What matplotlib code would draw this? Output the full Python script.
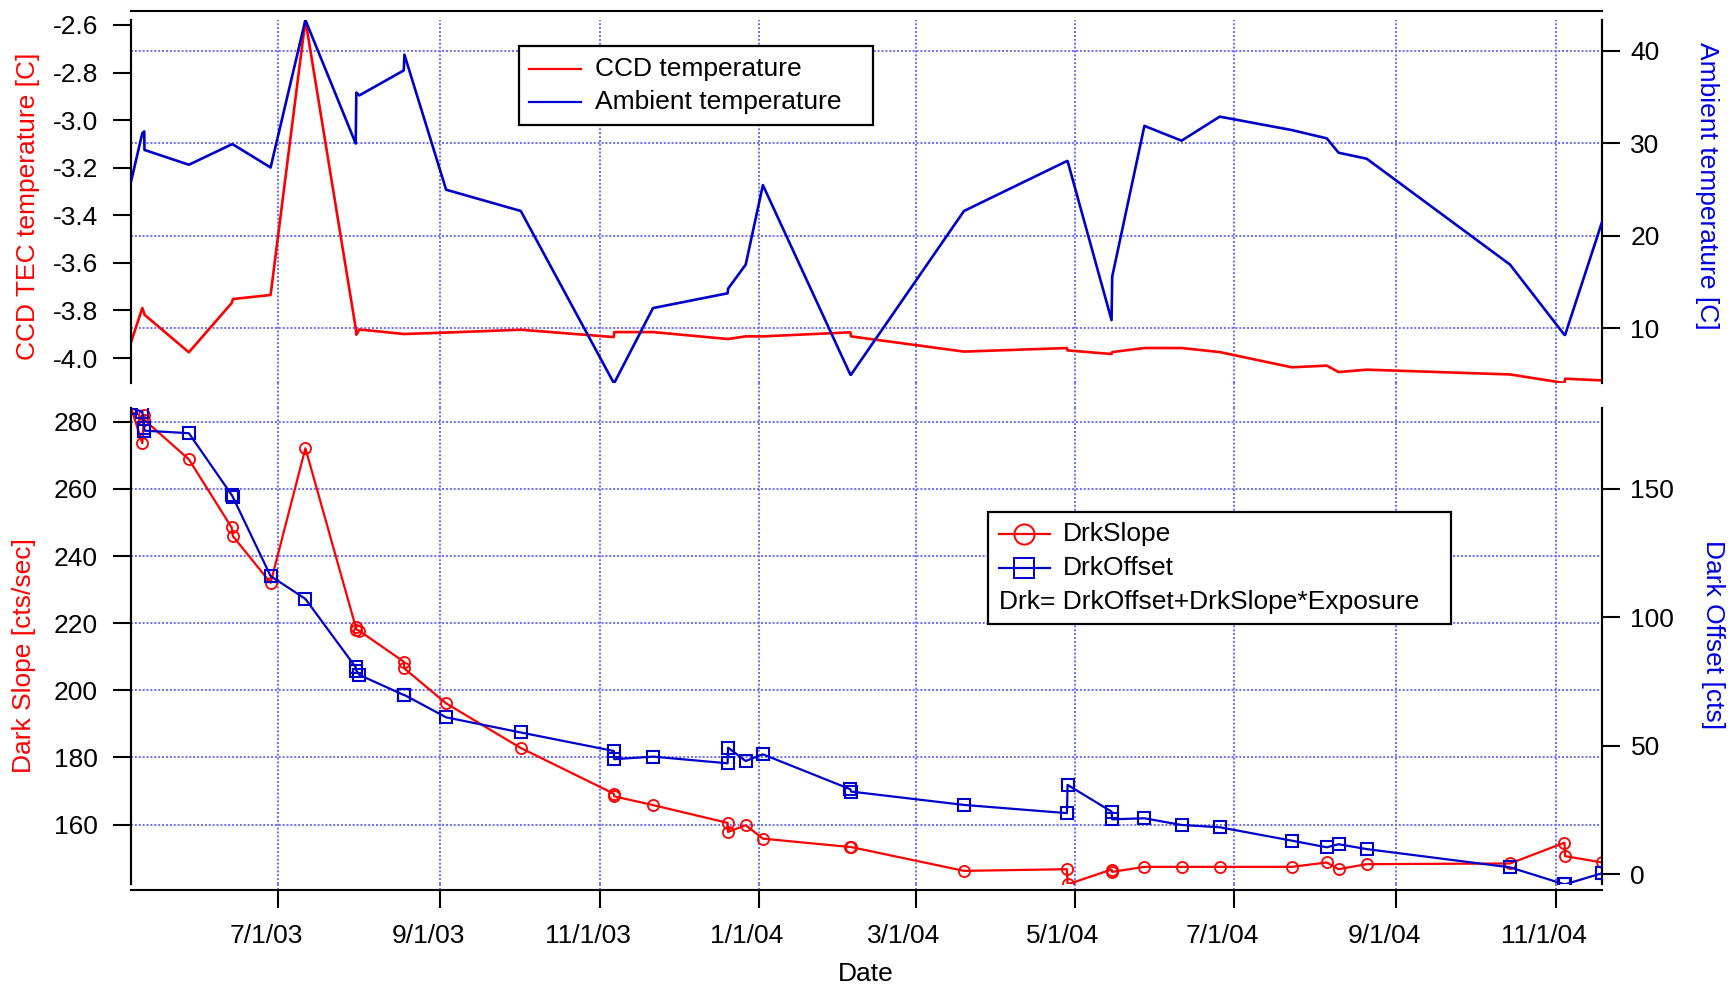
import numpy as np
import pandas as pd
import matplotlib
matplotlib.use('Agg')
import matplotlib.pyplot as plt
import matplotlib.transforms as mtransforms
from matplotlib.lines import Line2D
from matplotlib.offsetbox import DrawingArea, TextArea, HPacker, VPacker, AnchoredOffsetbox

plt.rcParams['font.family'] = ['Liberation Sans', 'DejaVu Sans']

# ---------------- data ----------------
meas_dates = [
    '2003-05-05 16:00', '2003-05-09 21:00', '2003-05-10 15:00', '2003-05-10 17:00',
    '2003-05-27 17:00', '2003-06-13 02:00', '2003-06-13 14:00', '2003-06-28 00:00',
    '2003-07-11 08:00', '2003-07-30 14:00', '2003-07-30 20:00', '2003-08-01 00:00',
    '2003-08-18 00:00', '2003-08-18 06:00', '2003-09-03 05:00', '2003-10-01 19:00',
    '2003-11-06 10:00', '2003-11-06 14:00', '2003-11-21 10:00', '2003-12-20 00:00',
    '2003-12-20 04:00', '2003-12-26 22:00', '2004-01-02 12:00', '2004-02-05 00:00',
    '2004-02-05 06:00', '2004-03-19 12:00', '2004-04-27 22:00', '2004-04-28 04:00',
    '2004-05-15 00:00', '2004-05-15 06:00', '2004-05-27 14:00', '2004-06-10 19:00',
    '2004-06-25 10:00', '2004-07-23 00:00', '2004-08-05 10:00', '2004-08-09 22:00',
    '2004-08-20 17:00', '2004-10-14 14:00', '2004-11-04 10:00', '2004-11-04 16:00',
    '2004-11-18 19:00']

ccd_temp = [-3.930, -3.790, -3.812, -3.818,
            -3.976, -3.769, -3.752, -3.735,
            -2.579, -3.874, -3.902, -3.880,
            -3.899, -3.899, -3.893, -3.881,
            -3.912, -3.891, -3.891, -3.920,
            -3.920, -3.909, -3.909, -3.892,
            -3.909, -3.973, -3.958, -3.968,
            -3.983, -3.975, -3.958, -3.958,
            -3.975, -4.039, -4.032, -4.059,
            -4.049, -4.069, -4.105, -4.087,
            -4.094]

ambient_temp = [26.0, 31.1, 31.3, 29.3,
                27.7, 29.9, 29.9, 27.4,
                43.35, 30.0, 35.5, 35.2,
                37.9, 39.6, 25.0, 22.7,
                4.1, 4.1, 12.2, 13.8,
                14.3, 16.9, 25.5, 5.0,
                5.0, 22.7, 28.1, 28.1,
                10.9, 15.6, 31.9, 30.3,
                32.9, 31.45, 30.55, 29.0,
                28.35, 16.9, 9.3, 9.3,
                21.5]

drk_slope = [284.0, 273.6, 282.0, 280.5,
             268.8, 248.5, 245.9, 232.0,
             272.1, 218.9, 218.1, 217.7,
             208.5, 206.5, 196.1, 182.8,
             169.2, 168.4, 165.8, 160.5,
             157.8, 159.8, 155.8, 153.3,
             153.3, 146.2, 146.7, 142.2,
             146.6, 145.9, 147.4, 147.4,
             147.4, 147.4, 148.7, 146.7,
             148.2, 148.4, 154.6, 150.6,
             148.7]

drk_offset = [181.4, 180.1, 173.9, 172.7,
              171.7, 147.7, 146.8, 116.1,
              107.2, 80.6, 79.3, 77.6,
              69.8, 69.8, 61.1, 55.2,
              48.0, 44.8, 45.8, 43.2,
              49.3, 44.1, 46.7, 33.1,
              32.2, 27.0, 23.8, 34.8,
              24.4, 21.4, 21.8, 19.2,
              18.3, 13.1, 10.5, 11.7,
              9.8, 2.7, -3.9, -3.9,
              0.4]

xtick_dates = ['2003-07-01', '2003-09-01', '2003-11-01', '2004-01-01', '2004-03-01',
               '2004-05-01', '2004-07-01', '2004-09-01', '2004-11-01']
xtick_labels = ['7/1/03', '9/1/03', '11/1/03', '1/1/04', '3/1/04',
                '5/1/04', '7/1/04', '9/1/04', '11/1/04']
ccd_ticks = [-4.0, -3.8, -3.6, -3.4, -3.2, -3.0, -2.8, -2.6]
ccd_ticklabels = ['-4.0', '-3.8', '-3.6', '-3.4', '-3.2', '-3.0', '-2.8', '-2.6']
ambient_ticks = [10, 20, 30, 40]
slope_ticks = [160, 180, 200, 220, 240, 260, 280]
offset_ticks = [0, 50, 100, 150]

# ---------------- style ----------------
RED = '#FF0000'
BLUE = '#0000CC'
BLUE_LABEL = '#0000E6'
GRID = '#6A6AFF'
FS = 19
SPINE_LW = 1.5

dates = pd.to_datetime(meas_dates)
xt = pd.to_datetime(xtick_dates)

W, H = 1730, 989
fig = plt.figure(figsize=(W / 100, H / 100), dpi=100)
L, R = 131.3, 1602.0
top_y0, top_y1 = 20.0, 383.0
bot_y0, bot_y1 = 408.3, 884.3

ax1 = fig.add_axes([L / W, 1 - top_y1 / H, (R - L) / W, (top_y1 - top_y0) / H])
ax3 = fig.add_axes([L / W, 1 - bot_y1 / H, (R - L) / W, (bot_y1 - bot_y0) / H], sharex=ax1)
ax2 = ax1.twinx()
ax4 = ax3.twinx()

grid_kw = dict(color=GRID, linestyle=(0, (1, 1)), linewidth=1.4)

# ---- top panel ----
ax1.plot(dates, ccd_temp, color=RED, lw=1.9, label='CCD temperature', zorder=3)
ax2.plot(dates, ambient_temp, color=BLUE, lw=1.9, label='Ambient temperature', zorder=3)
ax1.set_ylim(min(ccd_temp), max(ccd_temp))
ax2.set_ylim(min(ambient_temp), max(ambient_temp))
ax1.set_xlim(dates.min(), dates.max())

lo1, hi1 = ax1.get_ylim()
lo2, hi2 = ax2.get_ylim()
for t in ambient_ticks:
    ax1.axhline(lo1 + (t - lo2) / (hi2 - lo2) * (hi1 - lo1), zorder=0.5, **grid_kw)
ax1.set_axisbelow(True)
ax1.set_xticks(xt)
ax1.grid(True, axis='x', **grid_kw)
ax1.tick_params(axis='x', length=0, labelbottom=False)

ax1.set_yticks(ccd_ticks)
ax1.set_yticklabels(ccd_ticklabels)
ax1.tick_params(axis='y', direction='out', length=13, width=SPINE_LW, labelsize=FS, pad=11)
ax2.set_yticks(ambient_ticks)
ax2.tick_params(axis='y', direction='out', length=13, width=SPINE_LW, labelsize=FS, pad=7.5)

for a in (ax1, ax2):
    a.spines['bottom'].set_visible(False)
    for s in ('left', 'right', 'top'):
        a.spines[s].set_linewidth(SPINE_LW)
ax2.spines['top'].set_visible(False)
ax1.spines['top'].set_position(('outward', 6.5))

ax1.set_ylabel('CCD TEC temperature [C]', color=RED, fontsize=FS, va='center', ha='center')
ax1.yaxis.set_label_coords(-0.0705, 0.488)
ax2.set_ylabel('Ambient temperature [C]', color=BLUE_LABEL, fontsize=FS, rotation=270,
               va='center', ha='center')
ax2.yaxis.set_label_coords(1.0714, 0.544)

# ---- bottom panel ----
ax3.plot(dates, drk_slope, color=RED, lw=1.6, marker='o', ms=8, mfc='none', mec=RED,
         mew=1.3, zorder=3)
ax4.plot(dates, drk_offset, color=BLUE, lw=1.6, marker='s', ms=8, mfc='none', mec=BLUE,
         mew=1.5, zorder=3)
ax3.set_ylim(min(drk_slope), max(drk_slope))
ax4.set_ylim(min(drk_offset), max(drk_offset))

ax3.set_axisbelow(True)
ax3.set_yticks(slope_ticks)
ax4.set_yticks(offset_ticks)
ax3.set_xticks(xt)
ax3.set_xticklabels(xtick_labels)
ax3.grid(True, axis='both', **grid_kw)

bh = bot_y1 - bot_y0
for d in xt:
    ax3.axvline(d, ymin=1.0, ymax=1.0 + (bot_y0 - top_y1) / bh, clip_on=False, zorder=0.5, **grid_kw)
    ax3.axvline(d, ymin=-6.0 / bh, ymax=0.0, clip_on=False, zorder=0.5, **grid_kw)

ax3.tick_params(axis='y', direction='out', length=13, width=SPINE_LW, labelsize=FS, pad=11)
ax4.tick_params(axis='y', direction='out', length=13, width=SPINE_LW, labelsize=FS, pad=7.5)
ax3.tick_params(axis='x', direction='out', length=13, width=SPINE_LW, labelsize=FS, pad=11)

for a in (ax3, ax4):
    a.spines['top'].set_visible(False)
    for s in ('left', 'right', 'bottom'):
        a.spines[s].set_linewidth(SPINE_LW)
ax3.spines['bottom'].set_position(('outward', 4.3))
ax4.spines['bottom'].set_visible(False)

offset = mtransforms.ScaledTranslation(-0.12, 0, fig.dpi_scale_trans)
for lab in ax3.get_xticklabels():
    lab.set_transform(lab.get_transform() + offset)

ax3.set_ylabel('Dark Slope [cts/sec]', color=RED, fontsize=FS, va='center', ha='center')
ax3.yaxis.set_label_coords(-0.0728, 0.481)
ax4.set_ylabel('Dark Offset [cts]', color=BLUE_LABEL, fontsize=FS, rotation=270,
               va='center', ha='center')
ax4.yaxis.set_label_coords(1.0758, 0.525)
ax3.set_xlabel('Date', fontsize=FS, va='center', ha='center')
ax3.xaxis.set_label_coords(0.4996, -0.188)


# ---------------- legends ----------------
def handle_row(color, marker, label, hl, gap, ms):
    h = 14
    da = DrawingArea(hl, h, 0, 0)
    da.add_artist(Line2D([0, hl], [h / 2, h / 2], color=color, lw=1.6))
    if marker is not None:
        da.add_artist(Line2D([hl / 2], [h / 2], color=color, marker=marker, mfc='none',
                             mec=color, ms=ms, mew=1.4, lw=0))
    ta = TextArea(label, textprops=dict(size=FS))
    return HPacker(children=[da, ta], align='center', pad=0, sep=gap)


def make_legend(ax, rows, anchor_px, right_extra):
    vp = VPacker(children=rows, align='left', pad=0, sep=7.0)
    box = HPacker(children=[vp, DrawingArea(right_extra, 1, 0, 0)], align='center', pad=0, sep=0)
    ab = AnchoredOffsetbox(loc='upper left', child=box, pad=0.4, borderpad=0, frameon=True,
                           prop=dict(size=FS),
                           bbox_to_anchor=(anchor_px[0] / W, 1 - anchor_px[1] / H),
                           bbox_transform=fig.transFigure)
    ab.patch.set_edgecolor('black')
    ab.patch.set_linewidth(1.6)
    ab.patch.set_boxstyle('square', pad=0)
    ab.zorder = 10
    ax.add_artist(ab)
    return ab


rows_top = [handle_row(RED, None, 'CCD temperature', 37.4, 10.3, 0),
            handle_row(BLUE, None, 'Ambient temperature', 37.4, 10.3, 0)]
make_legend(ax2, rows_top, (518.6, 46.0), 15)

rows_bot = [handle_row(RED, 'o', 'DrkSlope', 36.4, 9.7, 14.5),
            handle_row(BLUE, 's', 'DrkOffset', 36.4, 9.7, 14.5),
            TextArea('Drk= DrkOffset+DrkSlope*Exposure', textprops=dict(size=FS))]
make_legend(ax4, rows_bot, (988.5, 511.8), 15)

fig.savefig('out.png', dpi=100)
